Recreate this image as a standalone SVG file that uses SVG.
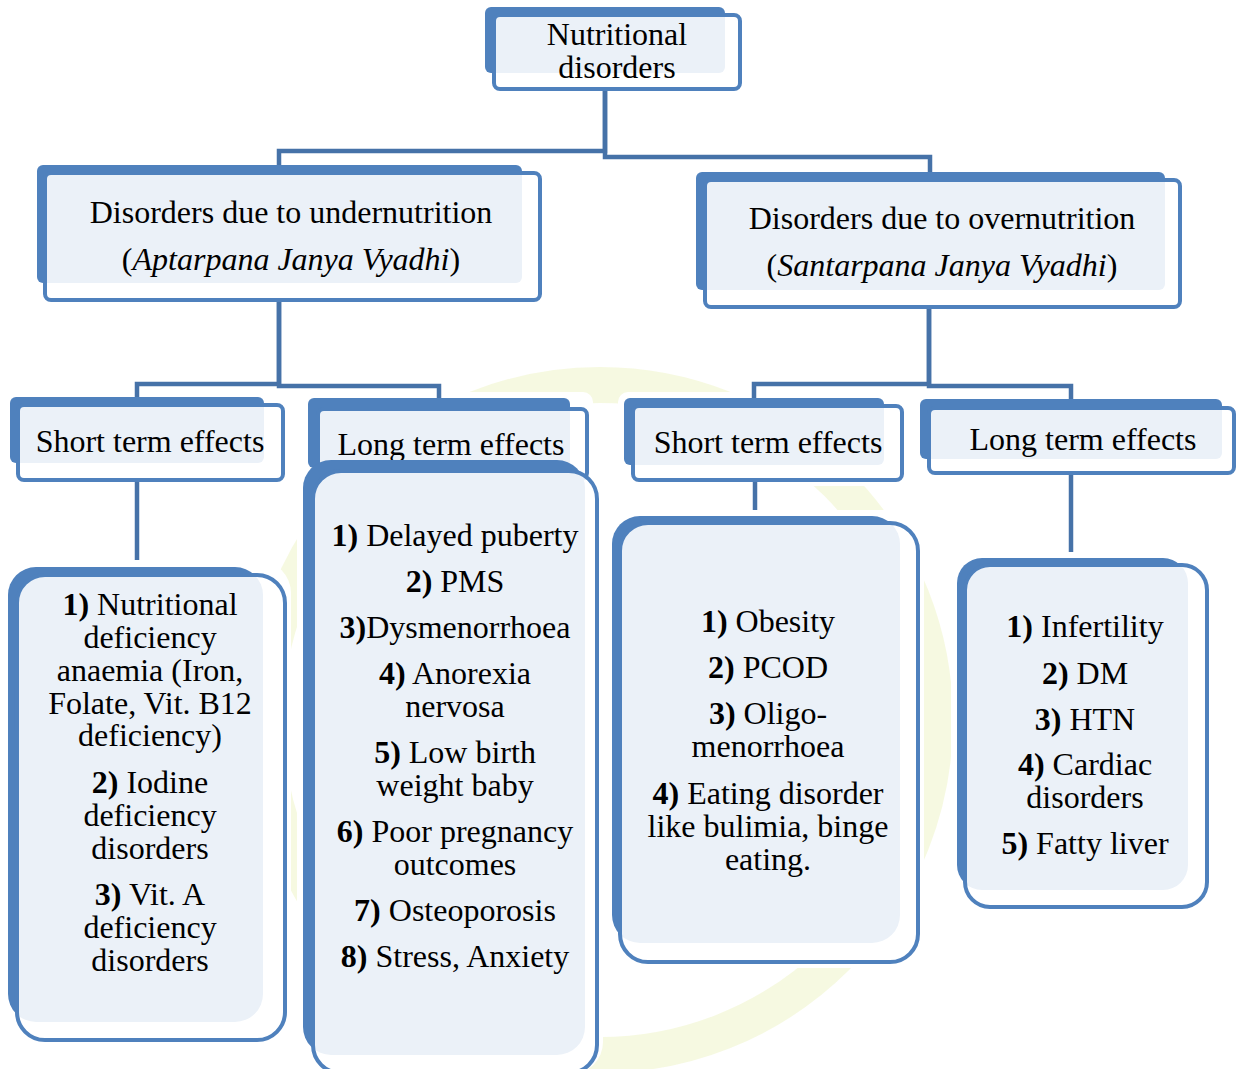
<svg xmlns="http://www.w3.org/2000/svg" width="1236" height="1069" viewBox="0 0 1236 1069">
<style>
.bk{fill:#4F81BD}
.fr{fill:#FFFFFF;fill-opacity:0.886;stroke:#4F81BD;stroke-width:4}
.halo{fill:#FFFFFF}
.t{font-family:"Liberation Serif","Times New Roman",serif;font-size:32px;fill:#000;text-anchor:middle}
.b{font-weight:bold}
.i{font-style:italic}
.c{fill:none;stroke:#4672A8;stroke-width:4.5;stroke-linejoin:miter}
</style>
<rect width="1236" height="1069" fill="#FFFFFF"/>
<g id="watermark" opacity="0.7">
<circle cx="600" cy="720" r="335" fill="none" stroke="#F2F7D4" stroke-width="36"/>
</g>
<g id="halos">
<rect class="halo" x="479" y="1" width="267" height="94" rx="10"/>
<rect class="halo" x="31" y="159" width="515" height="147" rx="10"/>
<rect class="halo" x="690" y="166" width="496" height="147" rx="10"/>
<rect class="halo" x="4" y="391" width="285" height="95" rx="10"/>
<rect class="halo" x="302" y="392" width="291" height="90" rx="10"/>
<rect class="halo" x="618" y="392" width="290" height="94" rx="10"/>
<rect class="halo" x="914" y="393" width="322" height="86" rx="10"/>
<rect class="halo" x="297" y="454" width="306" height="620" rx="32"/>
<rect class="halo" x="2" y="561" width="289" height="485" rx="32"/>
<rect class="halo" x="606" y="510" width="318" height="458" rx="32"/>
<rect class="halo" x="951" y="552" width="262" height="361" rx="30"/>
</g>
<g id="connectors">
<path class="c" d="M605,89 V151 H279 V165"/>
<path class="c" d="M605,89 V157 H930 V172"/>
<path class="c" d="M279,300 V384 H137 V397"/>
<path class="c" d="M279,300 V386 H439 V398"/>
<path class="c" d="M929,307 V384 H754 V398"/>
<path class="c" d="M929,307 V386 H1071 V399"/>
<path class="c" d="M137,480 V560"/>
<path class="c" d="M755,481 V510"/>
<path class="c" d="M1071,473 V552"/>
</g>
<g id="node-root">
<rect class="bk" x="485" y="7" width="240" height="66" rx="6"/>
<rect class="fr" x="494" y="15" width="246" height="74" rx="6"/>
<text class="t" x="617" y="45">Nutritional</text>
<text class="t" x="617" y="78">disorders</text>
</g>
<g id="node-under">
<rect class="bk" x="37" y="165" width="485" height="118" rx="6"/>
<rect class="fr" x="45" y="173" width="495" height="127" rx="6"/>
<text class="t" x="291" y="223">Disorders due to undernutrition</text>
<text class="t" x="291" y="270">(<tspan class="i">Aptarpana Janya Vyadhi</tspan>)</text>
</g>
<g id="node-over">
<rect class="bk" x="696" y="172" width="469" height="118" rx="6"/>
<rect class="fr" x="705" y="180" width="475" height="127" rx="6"/>
<text class="t" x="942" y="229">Disorders due to overnutrition</text>
<text class="t" x="942" y="276">(<tspan class="i">Santarpana Janya Vyadhi</tspan>)</text>
</g>
<g id="node-under-short">
<rect class="bk" x="10" y="397" width="254" height="66" rx="6"/>
<rect class="fr" x="18" y="405" width="265" height="75" rx="6"/>
<text class="t" x="150" y="452">Short term effects</text>
</g>
<g id="node-under-long">
<rect class="bk" x="308" y="398" width="262" height="70" rx="6"/>
<rect class="fr" x="318" y="409" width="269" height="70" rx="6"/>
<text class="t" x="451" y="455">Long term effects</text>
</g>
<g id="node-over-short">
<rect class="bk" x="624" y="398" width="260" height="67" rx="6"/>
<rect class="fr" x="633" y="406" width="269" height="74" rx="6"/>
<text class="t" x="768" y="453">Short term effects</text>
</g>
<g id="node-over-long">
<rect class="bk" x="920" y="399" width="302" height="60" rx="6"/>
<rect class="fr" x="929" y="408" width="305" height="65" rx="6"/>
<text class="t" x="1083" y="450">Long term effects</text>
</g>
<g id="node-under-short-list">
<rect class="bk" x="8" y="567" width="255" height="455" rx="28"/>
<rect class="fr" x="17" y="575" width="268" height="465" rx="28"/>
<text class="t" x="150" y="615"><tspan class="b">1)</tspan> Nutritional</text>
<text class="t" x="150" y="648">deficiency</text>
<text class="t" x="150" y="681">anaemia (Iron,</text>
<text class="t" x="150" y="714">Folate, Vit. B12</text>
<text class="t" x="150" y="746">deficiency)</text>
<text class="t" x="150" y="793"><tspan class="b">2)</tspan> Iodine</text>
<text class="t" x="150" y="826">deficiency</text>
<text class="t" x="150" y="859">disorders</text>
<text class="t" x="150" y="905"><tspan class="b">3)</tspan> Vit. A</text>
<text class="t" x="150" y="938">deficiency</text>
<text class="t" x="150" y="971">disorders</text>
</g>
<g id="node-under-long-list">
<rect class="bk" x="303" y="460" width="282" height="595" rx="28"/>
<rect class="fr" x="313" y="471" width="284" height="602" rx="28"/>
<text class="t" x="455" y="546"><tspan class="b">1)</tspan> Delayed puberty</text>
<text class="t" x="455" y="592"><tspan class="b">2)</tspan> PMS</text>
<text class="t" x="455" y="638"><tspan class="b">3)</tspan>Dysmenorrhoea</text>
<text class="t" x="455" y="684"><tspan class="b">4)</tspan> Anorexia</text>
<text class="t" x="455" y="717">nervosa</text>
<text class="t" x="455" y="763"><tspan class="b">5)</tspan> Low birth</text>
<text class="t" x="455" y="796">weight baby</text>
<text class="t" x="455" y="842"><tspan class="b">6)</tspan> Poor pregnancy</text>
<text class="t" x="455" y="875">outcomes</text>
<text class="t" x="455" y="921"><tspan class="b">7)</tspan> Osteoporosis</text>
<text class="t" x="455" y="967"><tspan class="b">8)</tspan> Stress, Anxiety</text>
</g>
<g id="node-over-short-list">
<rect class="bk" x="612" y="516" width="288" height="427" rx="28"/>
<rect class="fr" x="620" y="523" width="298" height="439" rx="28"/>
<text class="t" x="768" y="632"><tspan class="b">1)</tspan> Obesity</text>
<text class="t" x="768" y="678"><tspan class="b">2)</tspan> PCOD</text>
<text class="t" x="768" y="724"><tspan class="b">3)</tspan> Oligo-</text>
<text class="t" x="768" y="757">menorrhoea</text>
<text class="t" x="768" y="804"><tspan class="b">4)</tspan> Eating disorder</text>
<text class="t" x="768" y="837">like bulimia, binge</text>
<text class="t" x="768" y="870">eating.</text>
</g>
<g id="node-over-long-list">
<rect class="bk" x="957" y="558" width="231" height="332" rx="25"/>
<rect class="fr" x="965" y="565" width="242" height="342" rx="25"/>
<text class="t" x="1085" y="637"><tspan class="b">1)</tspan> Infertility</text>
<text class="t" x="1085" y="684"><tspan class="b">2)</tspan> DM</text>
<text class="t" x="1085" y="730"><tspan class="b">3)</tspan> HTN</text>
<text class="t" x="1085" y="775"><tspan class="b">4)</tspan> Cardiac</text>
<text class="t" x="1085" y="808">disorders</text>
<text class="t" x="1085" y="854"><tspan class="b">5)</tspan> Fatty liver</text>
</g>
</svg>
